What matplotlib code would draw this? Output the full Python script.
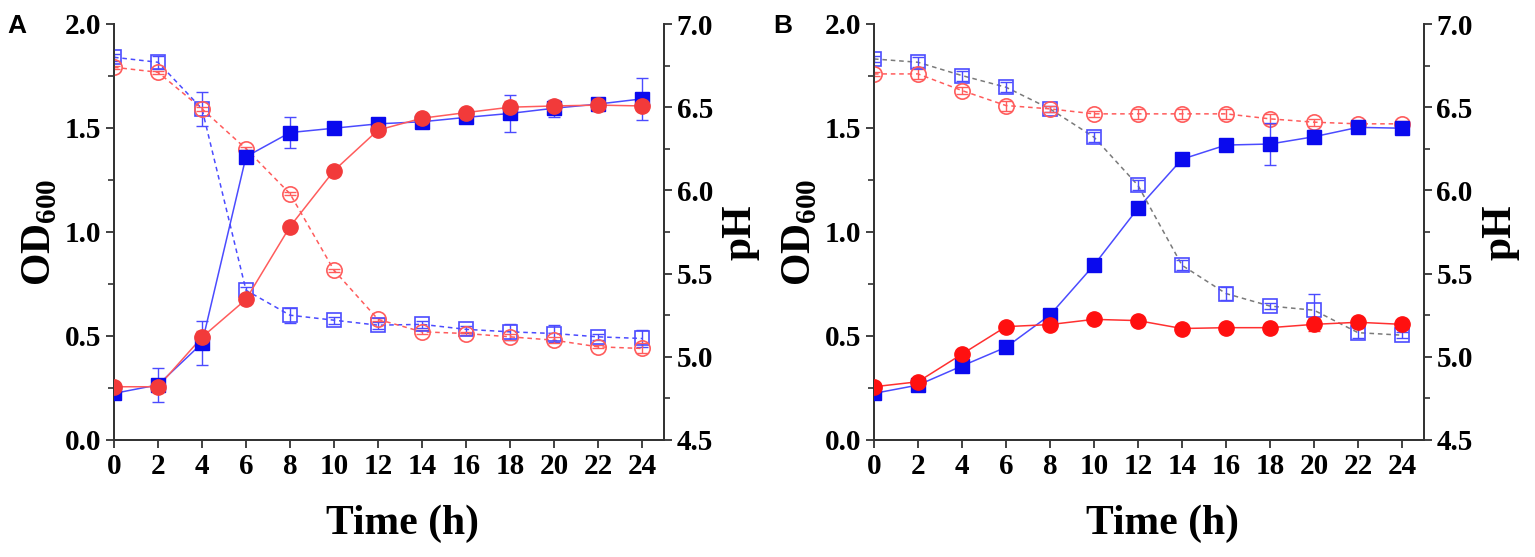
import matplotlib
matplotlib.use('Agg')
import matplotlib.pyplot as plt
from matplotlib.ticker import MultipleLocator, FormatStrFormatter

plt.rcParams['font.family'] = 'Liberation Serif'
plt.rcParams['font.weight'] = 'bold'
plt.rcParams['mathtext.fontset'] = 'custom'
plt.rcParams['mathtext.rm'] = 'Liberation Serif:bold'
plt.rcParams['mathtext.bf'] = 'Liberation Serif:bold'

time = [0, 2, 4, 6, 8, 10, 12, 14, 16, 18, 20, 22, 24]
xtick_labels = [str(t) for t in time]

# Panel A
a_od_blue = [0.224, 0.265, 0.465, 1.362, 1.478, 1.499, 1.52, 1.53, 1.551, 1.57, 1.595, 1.615, 1.64]
a_od_blue_err = [0.02, 0.08, 0.105, 0.02, 0.075, 0.02, 0.02, 0.02, 0.02, 0.09, 0.04, 0.02, 0.10]
a_od_red = [0.256, 0.256, 0.494, 0.676, 1.026, 1.295, 1.49, 1.547, 1.574, 1.60, 1.606, 1.61, 1.606]
a_od_red_err = [0.01, 0.02, 0.03, 0.01, 0.01, 0.01, 0.01, 0.01, 0.01, 0.03, 0.02, 0.01, 0.02]
a_ph_blue = [6.80, 6.77, 6.49, 5.40, 5.25, 5.22, 5.19, 5.195, 5.165, 5.15, 5.14, 5.12, 5.11]
a_ph_blue_err = [0.02, 0.04, 0.10, 0.02, 0.045, 0.02, 0.02, 0.02, 0.02, 0.05, 0.05, 0.02, 0.05]
a_ph_red = [6.74, 6.71, 6.49, 6.25, 5.98, 5.52, 5.225, 5.15, 5.14, 5.12, 5.10, 5.06, 5.05]
a_ph_red_err = [0.01, 0.01, 0.01, 0.01, 0.01, 0.01, 0.01, 0.01, 0.01, 0.02, 0.02, 0.01, 0.03]

# Panel B
b_od_blue = [0.224, 0.264, 0.356, 0.446, 0.601, 0.841, 1.114, 1.35, 1.418, 1.423, 1.458, 1.503, 1.499]
b_od_blue_err = [0.01, 0.01, 0.01, 0.01, 0.01, 0.01, 0.01, 0.01, 0.01, 0.10, 0.03, 0.01, 0.01]
b_od_red = [0.256, 0.28, 0.413, 0.545, 0.555, 0.58, 0.574, 0.536, 0.54, 0.54, 0.556, 0.566, 0.556]
b_od_red_err = [0.01, 0.01, 0.01, 0.01, 0.01, 0.01, 0.01, 0.01, 0.01, 0.01, 0.03, 0.01, 0.01]
b_ph_blue = [6.79, 6.77, 6.69, 6.62, 6.49, 6.32, 6.03, 5.55, 5.38, 5.305, 5.28, 5.145, 5.13]
b_ph_blue_err = [0.02, 0.03, 0.03, 0.03, 0.02, 0.03, 0.03, 0.03, 0.04, 0.02, 0.10, 0.03, 0.02]
b_ph_red = [6.70, 6.70, 6.60, 6.51, 6.49, 6.46, 6.46, 6.46, 6.46, 6.43, 6.41, 6.40, 6.40]
b_ph_red_err = [0.01, 0.03, 0.02, 0.03, 0.02, 0.02, 0.03, 0.03, 0.03, 0.03, 0.02, 0.01, 0.02]

BLUE = '#0a0aee'
BLUE_L = '#4b4bff'
RED = '#f23a3a'
RED_L = '#ff5c5c'
GRAY = '#7a7a7a'

W, H = 1535, 557
fig = plt.figure(figsize=(W / 100, H / 100), dpi=100)
ax_w = 550 / W
ax_b = 1 - 440 / H
ax_h = 416 / H
axA = fig.add_axes([114 / W, ax_b, ax_w, ax_h])
axB = fig.add_axes([874 / W, ax_b, ax_w, ax_h])
axA2 = axA.twinx()
axB2 = axB.twinx()
for a in (axA, axB):
    a.set_zorder(2)
    a.patch.set_visible(False)

TICK_FS = 21
LAB_FS = 30
DASH = (0, (3, 2.5))


def style(ax, ax2):
    ax.set_xlim(0, 25)
    ax.set_ylim(0, 2.0)
    ax2.set_ylim(4.5, 7.0)
    ax.set_xticks(time)
    ax.set_xticklabels(xtick_labels)
    for a in (ax, ax2):
        a.yaxis.set_major_locator(MultipleLocator(0.5))
        a.yaxis.set_minor_locator(MultipleLocator(0.25))
        a.yaxis.set_major_formatter(FormatStrFormatter('%.1f'))
        a.spines['top'].set_visible(False)
        for s in a.spines.values():
            s.set_linewidth(1.3)
            s.set_color('#333333')
        a.tick_params(axis='both', which='major', direction='out', length=6, width=1.3,
                      labelsize=TICK_FS, color='#333333', pad=3)
        a.tick_params(axis='both', which='minor', direction='out', length=4, width=1.2,
                      color='#333333')
    ax.set_xlabel('Time (h)', fontsize=LAB_FS, fontweight='bold', labelpad=22)
    ax.xaxis.set_label_coords(0.525, -0.155, transform=ax.transAxes)
    ax.xaxis.label.set_va('top')
    ax.set_ylabel('OD$_{\\mathregular{600}}$', fontsize=LAB_FS, fontweight='bold', labelpad=4)
    ax2.set_ylabel('pH', fontsize=LAB_FS, fontweight='bold', labelpad=6)


def series(ax, y, err, color, lcolor, marker, filled, ls, ms, line_color=None, z=3):
    lc = line_color if line_color is not None else lcolor
    ax.plot(time, y, ls=ls, color=lc, lw=1.1, zorder=z)
    ax.errorbar(time, y, yerr=err, fmt='none', ecolor=lcolor, elinewidth=1.0,
                capsize=4, capthick=1.0, zorder=z)
    if filled:
        ax.plot(time, y, ls='none', marker=marker, ms=ms, mfc=color, mec=color, zorder=z + 1)
    else:
        ax.plot(time, y, ls='none', marker=marker, ms=ms, mfc='none', mec=lcolor, mew=1.2,
                zorder=z + 1)


# Panel A
series(axA2, a_ph_blue, a_ph_blue_err, BLUE, BLUE_L, 's', False, DASH, 10)
series(axA2, a_ph_red, a_ph_red_err, RED, RED_L, 'o', False, DASH, 11)
series(axA, a_od_blue, a_od_blue_err, BLUE, BLUE_L, 's', True, '-', 10)
series(axA, a_od_red, a_od_red_err, RED, RED_L, 'o', True, '-', 11)
style(axA, axA2)

# Panel B
series(axB2, b_ph_blue, b_ph_blue_err, BLUE, BLUE_L, 's', False, DASH, 10, line_color=GRAY)
series(axB2, b_ph_red, b_ph_red_err, RED, RED_L, 'o', False, DASH, 11)
series(axB, b_od_blue, b_od_blue_err, BLUE, BLUE_L, 's', True, '-', 10)
series(axB, b_od_red, b_od_red_err, '#ff1010', '#ff3030', 'o', True, '-', 11)
style(axB, axB2)

fig.text(7 / W, 1 - 33 / H, 'A', fontsize=19, fontweight='bold', family='Liberation Sans')
fig.text(773 / W, 1 - 33 / H, 'B', fontsize=19, fontweight='bold', family='Liberation Sans')

fig.savefig('out.png', dpi=100)
